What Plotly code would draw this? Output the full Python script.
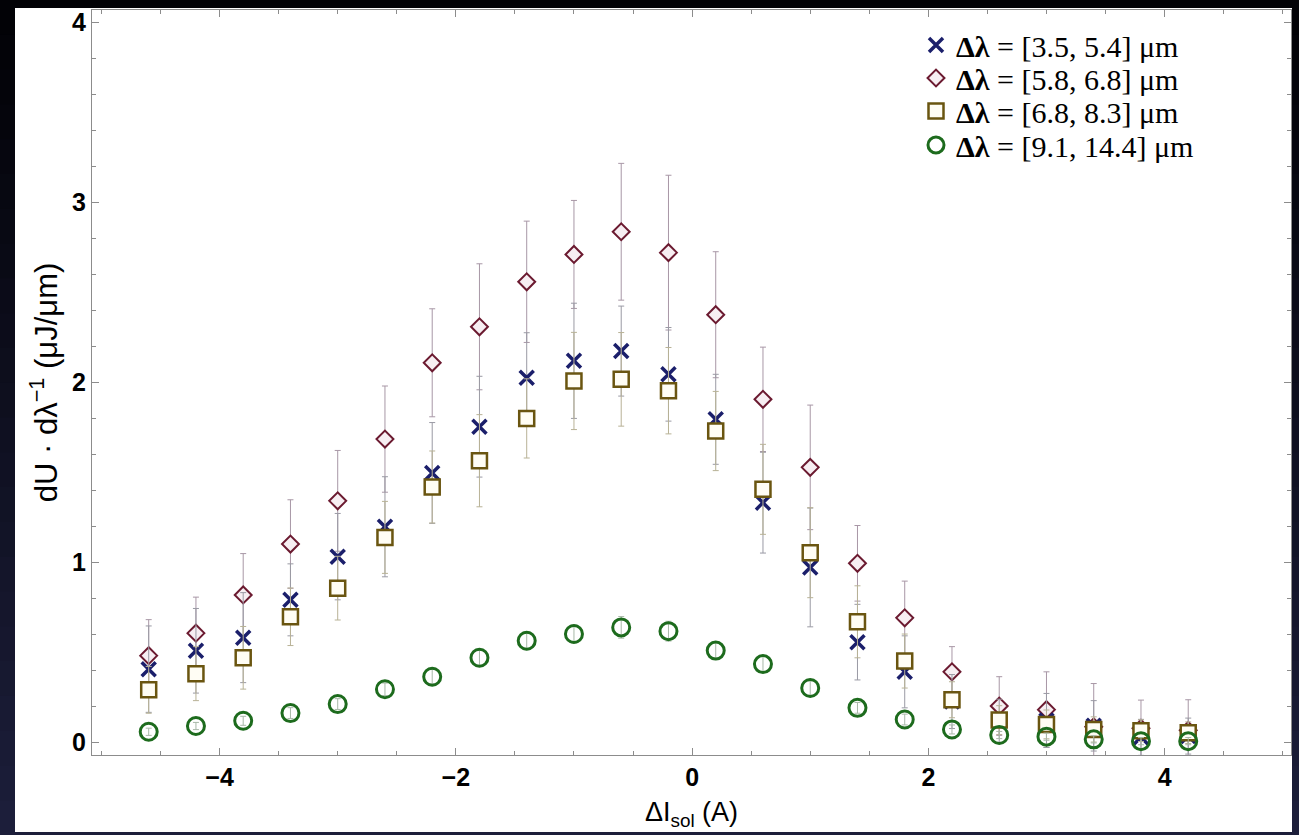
import plotly.graph_objects as go

# Solenoid current offset (A)
delta_i = [-4.6, -4.2, -3.8, -3.4, -3.0, -2.6, -2.2, -1.8, -1.4, -1.0, -0.6, -0.2,
           0.2, 0.6, 1.0, 1.4, 1.8, 2.2, 2.6, 3.0, 3.4, 3.8, 4.2]

# Spectral energy density (uJ/um) per wavelength band, with uncertainties
band_35_54 = [0.405, 0.507, 0.58, 0.79, 1.03, 1.196, 1.495, 1.752, 2.024, 2.118, 2.172, 2.043,
              1.793, 1.33, 0.97, 0.555, 0.39, 0.225, 0.118, 0.12, 0.09, 0.026, 0.033]
err_35_54 = [0.24, 0.235, 0.25, 0.2, 0.24, 0.278, 0.28, 0.28, 0.25, 0.32, 0.25, 0.26,
             0.25, 0.28, 0.33, 0.21, 0.2, 0.15, 0.12, 0.15, 0.14, 0.1, 0.1]

band_58_68 = [0.48, 0.605, 0.817, 1.10, 1.34, 1.683, 2.107, 2.307, 2.557, 2.709, 2.835, 2.719,
              2.374, 1.904, 1.526, 0.993, 0.69, 0.39, 0.2, 0.18, 0.085, 0.076, 0.065]
err_58_68 = [0.2, 0.2, 0.23, 0.246, 0.28, 0.295, 0.30, 0.35, 0.337, 0.30, 0.38, 0.43,
             0.35, 0.29, 0.346, 0.21, 0.204, 0.14, 0.163, 0.21, 0.24, 0.157, 0.17]

band_68_83 = [0.29, 0.38, 0.468, 0.696, 0.855, 1.137, 1.417, 1.563, 1.798, 2.006, 2.015, 1.952,
              1.728, 1.404, 1.052, 0.668, 0.45, 0.235, 0.122, 0.098, 0.07, 0.063, 0.052]
err_68_83 = [0.13, 0.15, 0.174, 0.16, 0.177, 0.2, 0.2, 0.256, 0.22, 0.27, 0.26, 0.24,
             0.22, 0.25, 0.25, 0.2, 0.15, 0.1, 0.08, 0.08, 0.07, 0.06, 0.06]

band_91_144 = [0.057, 0.089, 0.118, 0.161, 0.211, 0.293, 0.363, 0.468, 0.563, 0.60, 0.637, 0.616,
               0.508, 0.433, 0.30, 0.19, 0.125, 0.07, 0.039, 0.03, 0.015, 0.005, 0.005]
err_91_144 = [0.02, 0.02, 0.025, 0.03, 0.03, 0.035, 0.04, 0.045, 0.05, 0.05, 0.06, 0.055,
              0.05, 0.045, 0.04, 0.03, 0.03, 0.025, 0.02, 0.02, 0.02, 0.02, 0.02]

legend_names = ["<b>Δλ</b> = [3.5, 5.4] μm", "<b>Δλ</b> = [5.8, 6.8] μm",
                "<b>Δλ</b> = [6.8, 8.3] μm", "<b>Δλ</b> = [9.1, 14.4] μm"]

W, H = 1299, 835
ML, MR, MT, MB = 92, 8, 10, 80
PW, PH = W - ML - MR, H - MT - MB


def px_x(p):
    return (p - ML) / PW


def px_y(p):
    return (H - MB - p) / PH


fig = go.Figure()

# Diamonds go underneath so their long error bars sit behind the other series
fig.add_trace(go.Scatter(
    x=delta_i, y=band_58_68, mode="markers", name=legend_names[1], legend="legend2",
    error_y=dict(type="data", array=err_58_68, color="#a897a6", thickness=1, width=3),
    marker=dict(symbol="diamond", size=13, color="#f7eef2",
                line=dict(color="#6b1a30", width=2)),
))
fig.add_trace(go.Scatter(
    x=delta_i, y=band_35_54, mode="markers", name=legend_names[0], legend="legend",
    error_y=dict(type="data", array=err_35_54, color="#9a9aa4", thickness=1, width=3),
    marker=dict(symbol="x-thin", size=14, color="#1b1f6b",
                line=dict(color="#1b1f6b", width=3.5)),
))
fig.add_trace(go.Scatter(
    x=delta_i, y=band_68_83, mode="markers", name=legend_names[2], legend="legend3",
    error_y=dict(type="data", array=err_68_83, color="#b8b296", thickness=1, width=3),
    marker=dict(symbol="square", size=15, color="#fffdf4",
                line=dict(color="#6a5510", width=2.5)),
))
fig.add_trace(go.Scatter(
    x=delta_i, y=band_91_144, mode="markers", name=legend_names[3], legend="legend4",
    error_y=dict(type="data", array=err_91_144, color="#a8b8a8", thickness=1, width=3),
    marker=dict(symbol="circle-open", size=17, color="#1d6b1d",
                line=dict(color="#1d6b1d", width=3)),
))

# Dark backdrop fading from black at the top to navy at the bottom
shapes = []
n_bands = 24
for i in range(n_bands):
    t = i / (n_bands - 1)
    r, g, b = int(2 + 26 * t), int(2 + 28 * t), int(6 + 52 * t)
    y_top = H * i / n_bands
    y_bot = H * (i + 1) / n_bands + 1
    shapes.append(dict(type="rect", xref="paper", yref="paper", layer="below",
                       x0=px_x(0), x1=px_x(W), y0=px_y(y_bot), y1=px_y(y_top),
                       fillcolor=f"rgb({r},{g},{b})", line=dict(width=0)))
# White page behind the plot
shapes.append(dict(type="rect", xref="paper", yref="paper", layer="below",
                   x0=px_x(15), x1=px_x(1292), y0=px_y(832), y1=px_y(8),
                   fillcolor="white", line=dict(width=0)))

axis_common = dict(
    showline=True, linecolor="#8c8c8c", linewidth=1, mirror="ticks",
    ticks="inside", ticklen=7, tickcolor="#8c8c8c", tickwidth=1,
    showgrid=False, zeroline=False,
    tickfont=dict(family="Liberation Sans", size=25, color="black"),
)

# One single-entry legend per band, stacked with tight row spacing
legend_rows = [45, 78, 111, 145]
legend_style = dict(xanchor="left", yanchor="middle", bgcolor="rgba(0,0,0,0)",
                    borderwidth=0, itemsizing="trace",
                    font=dict(family="Liberation Serif", size=30, color="black"))
legends = {}
for k, row in enumerate(legend_rows):
    key = "legend" if k == 0 else f"legend{k + 1}"
    legends[key] = dict(x=px_x(916), y=px_y(row), **legend_style)

fig.update_layout(
    width=W, height=H,
    margin=dict(l=ML, r=MR, t=MT, b=MB),
    paper_bgcolor="#000000", plot_bgcolor="white",
    shapes=shapes,
    showlegend=True,
    **legends,
    xaxis=dict(
        **axis_common,
        range=[-5.08, 5.07],
        tickvals=[-4, -2, 0, 2, 4],
        ticktext=["<b>−4</b>", "<b>−2</b>", "<b>0</b>", "<b>2</b>", "<b>4</b>"],
        minor=dict(tickmode="linear", tick0=0, dtick=0.5, ticks="inside",
                   ticklen=4, tickcolor="#8c8c8c"),
        title=dict(text="ΔI<sub>sol</sub> (A)", standoff=12,
                   font=dict(family="Liberation Sans", size=27, color="black")),
    ),
    yaxis=dict(
        **axis_common,
        range=[-0.072, 4.067],
        tickvals=[0, 1, 2, 3, 4],
        ticktext=["<b>0</b>", "<b>1</b>", "<b>2</b>", "<b>3</b>", "<b>4</b>"],
        minor=dict(tickmode="linear", tick0=0, dtick=0.2, ticks="inside",
                   ticklen=4, tickcolor="#8c8c8c"),
        title=dict(text="dU · dλ<sup>−1</sup> (μJ/μm)", standoff=5,
                   font=dict(family="Liberation Sans", size=31, color="black")),
    ),
)

fig.write_html("out.html")
